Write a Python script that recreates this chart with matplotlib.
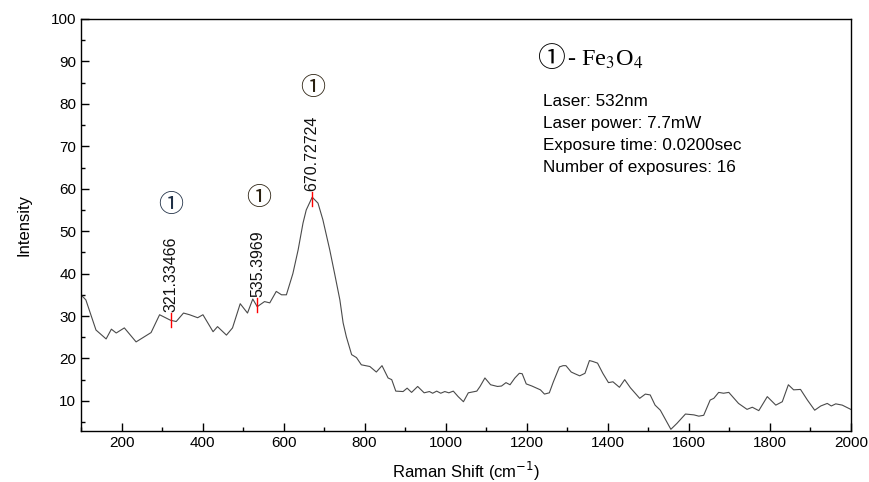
import matplotlib
matplotlib.use('Agg')
import matplotlib.pyplot as plt
from matplotlib.ticker import MultipleLocator

# spectrum
shift = [100, 112, 137, 162, 175, 187, 207, 236, 273, 294, 321, 335, 353, 368, 388, 401,
         426, 437, 459, 474, 493, 511, 524, 535, 553, 566, 582, 595, 607, 623, 636, 648,
         656, 670.7, 685, 697, 714, 726, 739, 747, 755, 768, 780, 792, 813, 829, 843, 858,
         867, 877, 895, 905, 916, 931, 947, 960, 968, 978, 988, 998, 1008, 1019, 1031, 1044,
         1056, 1077, 1085, 1097, 1111, 1128, 1138, 1149, 1159, 1171, 1182, 1189, 1199, 1213,
         1225, 1234, 1244, 1256, 1266, 1281, 1290, 1297, 1310, 1319, 1331, 1344, 1355, 1363,
         1375, 1388, 1402, 1413, 1429, 1442, 1456, 1468, 1479, 1493, 1505, 1517, 1530, 1556,
         1571, 1592, 1613, 1625, 1637, 1653, 1662, 1674, 1686, 1699, 1723, 1744, 1757, 1773,
         1794, 1815, 1831, 1846, 1859, 1876, 1893, 1911, 1926, 1942, 1952, 1963, 1979, 2000]
intensity = [35.0, 33.8, 26.7, 24.6, 26.9, 26.0, 27.2, 23.9, 26.1, 30.3, 29.0, 28.7, 30.7,
             30.3, 29.6, 30.3, 26.3, 27.5, 25.5, 27.2, 32.9, 30.7, 34.0, 32.2, 33.4, 33.1,
             35.8, 35.0, 35.0, 40.0, 45.6, 51.9, 55.0, 58.0, 56.6, 52.7, 45.6, 40.0, 33.8,
             28.4, 25.1, 20.9, 20.2, 18.5, 18.1, 16.8, 18.3, 15.4, 15.0, 12.3, 12.2, 13.0,
             12.0, 13.4, 11.9, 12.2, 11.8, 12.3, 11.8, 12.2, 11.9, 12.3, 11.0, 9.8, 11.9,
             12.3, 13.4, 15.4, 13.8, 13.4, 13.5, 14.3, 13.8, 15.4, 16.5, 16.4, 14.0, 13.5,
             13.0, 12.6, 11.6, 11.9, 14.5, 18.0, 18.3, 18.3, 16.8, 16.4, 15.9, 16.5, 19.5,
             19.3, 18.9, 16.5, 14.3, 14.5, 13.2, 15.0, 13.1, 11.8, 10.6, 11.6, 11.4, 9.0,
             7.8, 3.3, 4.7, 6.9, 6.7, 6.4, 6.6, 10.2, 10.6, 12.0, 11.8, 12.0, 9.4, 8.0,
             8.5, 7.7, 11.0, 9.0, 9.8, 13.8, 12.6, 12.7, 10.2, 7.8, 8.8, 9.4, 8.8, 9.3,
             9.0, 8.0]

peak_pos = [321.33466, 535.3969, 670.72724]
peak_val = [29.0, 32.6, 57.6]
peak_text = ['321.33466', '535.3969', '670.72724']
mark_pos = [(321, 56.0), (538, 57.8), (672, 83.6)]

info = ['Laser: 532nm', 'Laser power: 7.7mW', 'Exposure time: 0.0200sec',
        'Number of exposures: 16']

plt.rcParams['font.family'] = ['Liberation Sans', 'DejaVu Sans']
circ_font = ['DejaVu Serif', 'Noto Sans CJK JP', 'DejaVu Sans']

fig = plt.figure(figsize=(8.69, 4.82), dpi=100)
ax = fig.add_axes([0.0932, 0.1058, 0.8858, 0.8548])

ax.plot(shift, intensity, color='#4a4a4a', lw=0.8)

# red marks + rotated peak positions
for x, y, t in zip(peak_pos, peak_val, peak_text):
    ax.plot([x, x], [y - 1.6, y + 1.6], color='red', lw=1.0)
    ax.text(x, y + 1.9, t, rotation=90, ha='center', va='bottom', fontsize=11.5,
            color='#111111')

for i, (x, y) in enumerate(mark_pos):
    ax.text(x, y, '①', ha='center', va='center', fontsize=18,
            color='#1f2f45' if i == 0 else '#2a2010', family=circ_font)

ax.text(0.611, 0.9005, '①', transform=ax.transAxes, ha='center', va='center',
        fontsize=20, family=circ_font)
ax.text(0.632, 0.9005, '- Fe$_3$O$_4$', transform=ax.transAxes, ha='left', va='center',
        fontsize=17.5, family='Liberation Serif', math_fontfamily='stix')
for i, s in enumerate(info):
    ax.text(0.6, 0.80 - i * 0.0532, s, transform=ax.transAxes, ha='left',
            va='center', fontsize=12.3)

ax.set_xlim(100, 2000)
ax.set_ylim(2.9, 100)
ax.xaxis.set_major_locator(MultipleLocator(200))
ax.xaxis.set_minor_locator(MultipleLocator(100))
ax.yaxis.set_major_locator(MultipleLocator(10))
ax.yaxis.set_minor_locator(MultipleLocator(5))
ax.tick_params(which='both', direction='in', top=False, right=False, labelsize=11)
ax.tick_params(which='major', length=6, width=1)
ax.tick_params(which='minor', length=3, width=1)
ax.set_xticks([200, 400, 600, 800, 1000, 1200, 1400, 1600, 1800, 2000])
for sp in ax.spines.values():
    sp.set_linewidth(1.0)

ax.set_xlabel('Raman Shift (cm$^{-1}$)', fontsize=12, labelpad=7)
ax.set_ylabel('Intensity', fontsize=12, labelpad=14)

fig.savefig('out.png', dpi=100)
